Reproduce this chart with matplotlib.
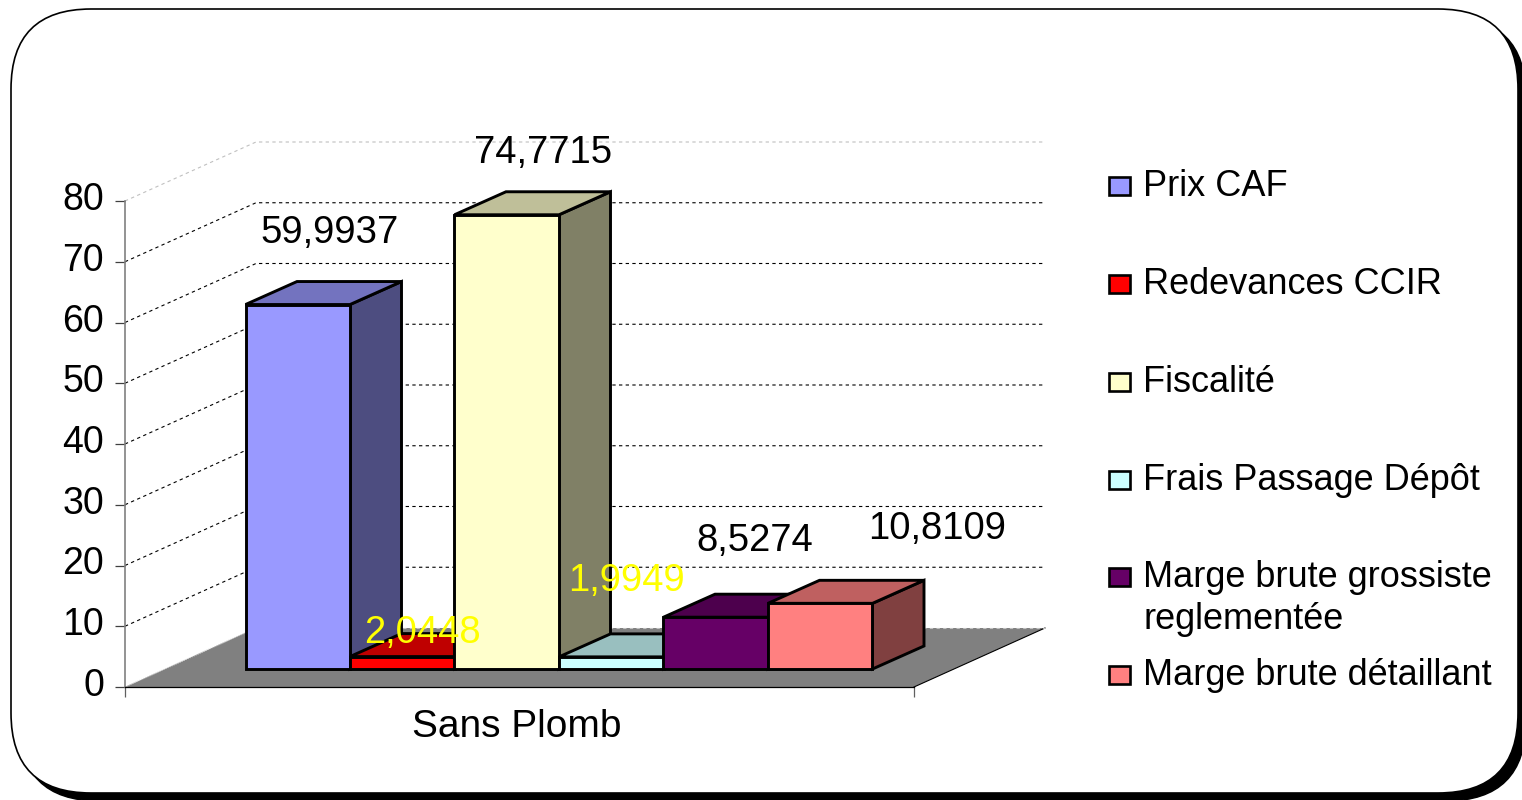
# -*- coding: utf-8 -*-
import matplotlib
matplotlib.use("Agg")
import matplotlib.pyplot as plt
from matplotlib.patches import FancyBboxPatch, Polygon, Rectangle
from matplotlib.colors import to_rgb
from matplotlib.transforms import Affine2D

plt.rcParams['font.family'] = ['Liberation Sans', 'DejaVu Sans']

# data
series = ['Prix CAF', 'Redevances CCIR', 'Fiscalité', 'Frais Passage Dépôt',
          'Marge brute grossiste\nreglementée', 'Marge brute détaillant']
values = [59.9937, 2.0448, 74.7715, 1.9949, 8.5274, 10.8109]
value_labels = ['59,9937', '2,0448', '74,7715', '1,9949', '8,5274', '10,8109']
colors = ['#9999FF', '#FF0000', '#FFFFCC', '#CCFFFF', '#660066', '#FF8080']
category = 'Sans Plomb'
yticks = [0, 10, 20, 30, 40, 50, 60, 70, 80]

PX_W, PX_H = 1522, 800
fig = plt.figure(figsize=(PX_W / 100, PX_H / 100), dpi=100, facecolor='white')

# rounded frame with its shadow, in pixels
bg = fig.add_axes([0, 0, 1, 1])
bg.set_xlim(0, PX_W)
bg.set_ylim(PX_H, 0)
bg.axis('off')
shadow = FancyBboxPatch((19, 17), 1507, 784, boxstyle='round,pad=0,rounding_size=80',
                        fc='black', ec='black', lw=1)
frame = FancyBboxPatch((11, 9), 1507, 784, boxstyle='round,pad=0,rounding_size=80',
                       fc='white', ec='black', lw=1.2)
bg.add_patch(shadow)
bg.add_patch(frame)

# plot area = front plane. x unit is one pixel, y unit is the chart value
left, right, base, top = 125, 914, 687, 201
ax = fig.add_axes([left / PX_W, 1 - base / PX_H, (right - left) / PX_W, (base - top) / PX_H])
ax.patch.set_alpha(0)
W = right - left
ax.set_xlim(0, W)
ax.set_ylim(0, 80)
px = 80 / (base - top)  # value per pixel

depth_x, depth_y = 131, 59 * px
lab_fs = 27.5

# floor
ax.add_patch(Polygon([(0, 0), (W, 0), (W + depth_x, depth_y), (depth_x, depth_y)],
                     fc='#808080', ec='none', clip_on=False, zorder=1))
ax.plot([W, W + depth_x], [0, depth_y], color='black', lw=0.8, clip_on=False, zorder=1.5)
ax.plot([0, depth_x], [0, depth_y], color='#d0d0d0', lw=0.8, ls=(0, (1, 1)), clip_on=False, zorder=1.5)

# walls grid
for v in yticks:
    c = '#c0c0c0' if v in (0, 80) else 'black'
    if v == 0:
        ax.plot([depth_x, W + depth_x], [depth_y, depth_y], color=c, lw=0.8,
                ls=(0, (3, 3)), clip_on=False, zorder=1.5)
        continue
    ax.plot([0, depth_x, W + depth_x], [v, v + depth_y, v + depth_y], color=c, lw=0.8,
            ls=(0, (3, 3)), clip_on=False, zorder=1.5)

# bars
bar_x0, bar_w = 120.5, 104.5
bar_dx, bar_dy = 51.5, 23 * px
bar_base = 18 * px
edge_lw = 2.1
label_off = [(32, 72), (20, 24), (36, 62), (15, 76), (39, 76), (117, 74)]

for i, v in enumerate(values):
    x = bar_x0 + i * bar_w
    y1 = bar_base + v
    rgb = to_rgb(colors[i])
    side = tuple(c * 0.5 for c in rgb)
    lid = tuple(c * 0.75 for c in rgb)
    z = 3 + i
    ax.add_patch(Polygon([(x + bar_w, bar_base), (x + bar_w + bar_dx, bar_base + bar_dy),
                          (x + bar_w + bar_dx, y1 + bar_dy), (x + bar_w, y1)],
                         fc=side, ec='black', lw=edge_lw, clip_on=False, zorder=z))
    ax.add_patch(Polygon([(x, y1), (x + bar_dx, y1 + bar_dy),
                          (x + bar_w + bar_dx, y1 + bar_dy), (x + bar_w, y1)],
                         fc=lid, ec='black', lw=edge_lw, clip_on=False, zorder=z))
    ax.bar(x, v, bottom=bar_base, width=bar_w, align='edge', color=colors[i],
           edgecolor='black', lw=edge_lw, clip_on=False, zorder=z)

for i, v in enumerate(values):
    x = bar_x0 + i * bar_w + bar_w / 2
    ax.annotate(value_labels[i], xy=(x, bar_base + v), xytext=label_off[i],
                textcoords='offset pixels', ha='center', va='center',
                fontsize=lab_fs, annotation_clip=False, zorder=20,
                color='#FFFF00' if v < 5 and v > 0 else 'black')

# axes
for s in ('top', 'right'):
    ax.spines[s].set_visible(False)
ax.spines['left'].set_color('#808080')
ax.spines['left'].set_linewidth(1.2)
ax.spines['bottom'].set_color('black')
ax.spines['bottom'].set_linewidth(0.9)
ax.set_yticks(yticks)
ax.tick_params(axis='y', length=7, width=0.9, color='#404040', labelsize=27, pad=8)
for lab in ax.get_yticklabels():
    lab.set_transform(lab.get_transform() + Affine2D().translate(0, 5))
ax.set_xticks([0, W])
ax.set_xticklabels(['', ''])
ax.tick_params(axis='x', length=7, width=0.9, color='#606060')
ax.set_xlabel(category, fontsize=28, labelpad=5.5, x=0.497)

# legend, built by hand since entry 5 sits on its first line
baselines = [196, 294, 392, 490, 587, 685]
for i, name in enumerate(series):
    bg.add_patch(Rectangle((1109, baselines[i] - 19), 21, 18, fc=colors[i], ec='black', lw=1.9))
    # multi line text takes its baseline from the last line
    y = baselines[i] + 42 * name.count('\n')
    bg.text(1143, y, name, fontsize=26, va='baseline', ha='left', linespacing=1.25)

fig.savefig('out.png', dpi=100)
